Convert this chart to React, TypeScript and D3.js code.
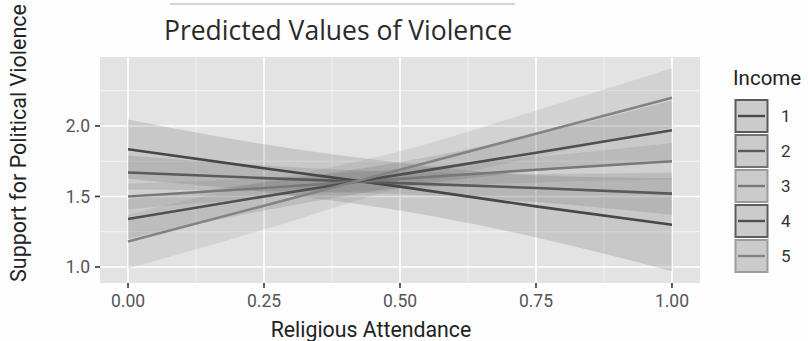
import React from 'react';
import * as d3 from 'd3';

const attendance = [0, 0.25, 0.5, 0.75, 1];
const incomeLevels = ['1', '2', '3', '4', '5'];

// predicted support, one array per income level
const predicted1 = [1.835, 1.7, 1.57, 1.43, 1.3];
const predicted2 = [1.67, 1.63, 1.595, 1.56, 1.52];
const predicted3 = [1.5, 1.56, 1.625, 1.69, 1.75];
const predicted4 = [1.34, 1.5, 1.655, 1.81, 1.97];
const predicted5 = [1.18, 1.435, 1.69, 1.945, 2.2];

// confidence band edges
const lower1 = [1.625, 1.53, 1.4, 1.21, 0.97];
const upper1 = [2.045, 1.87, 1.74, 1.65, 1.63];
const lower2 = [1.55, 1.54, 1.515, 1.46, 1.37];
const upper2 = [1.79, 1.72, 1.675, 1.66, 1.67];
const lower3 = [1.41, 1.49, 1.555, 1.6, 1.62];
const upper3 = [1.59, 1.63, 1.695, 1.78, 1.88];
const lower4 = [1.2, 1.4, 1.565, 1.68, 1.76];
const upper4 = [1.48, 1.6, 1.745, 1.94, 2.18];
const lower5 = [0.99, 1.265, 1.56, 1.78, 1.99];
const upper5 = [1.37, 1.605, 1.82, 2.11, 2.41];

const xTicks = [0, 0.25, 0.5, 0.75, 1];
const xMinor = [0.125, 0.375, 0.625, 0.875];
const yTicks = [1.0, 1.5, 2.0];
const yMinor = [1.25, 1.75, 2.25];

const predicted = [predicted1, predicted2, predicted3, predicted4, predicted5];
const lowers = [lower1, lower2, lower3, lower4, lower5];
const uppers = [upper1, upper2, upper3, upper4, upper5];

// greys (the reference is a greyscale print)
const lineColors = ['#474747', '#5a5a5a', '#787878', '#4f4f4f', '#838383'];
const keyBorders = ['#5a5a5a', '#727272', '#9a9a9a', '#5e5e5e', '#9c9c9c'];

const W = 808;
const H = 341;
const panel = { left: 100, right: 700, top: 57, bottom: 283 };

const App = () => {
  const x = d3.scaleLinear().domain([-0.0515, 1.0515]).range([panel.left, panel.right]);
  const y = d3.scaleLinear().domain([0.8865, 2.489]).range([panel.bottom, panel.top]);

  const line = d3.line<number>()
    .x((_, i) => x(attendance[i]))
    .y(d => y(d));

  const band = (lo: number[], hi: number[]) =>
    d3.area<number>()
      .x(d => x(d))
      .y0((_, i) => y(lo[i]))
      .y1((_, i) => y(hi[i]))
      .curve(d3.curveMonotoneX)(attendance);

  const axisFont = 'Roboto, "Liberation Sans", Arial, sans-serif';

  return (
    <div style={{ position: 'fixed', left: 0, top: 0 }}>
      <svg width={W} height={H} style={{ display: 'block', background: '#fdfdfd' }}>
        {/* faint scan line at the top */}
        <line x1={170} x2={515} y1={4} y2={4} stroke="#c4c4c4" strokeWidth={1.5} />

        <text x={338} y={40} textAnchor="middle" fontFamily='"Open Sans", "Noto Sans", sans-serif'
          fontSize={26.5} fill="#2a2a2a">Predicted Values of Violence</text>

        {/* panel */}
        <rect x={panel.left} y={panel.top} width={panel.right - panel.left}
          height={panel.bottom - panel.top} fill="#e3e3e3" />
        {yMinor.map(v => (
          <line key={'ym' + v} x1={panel.left} x2={panel.right} y1={y(v)} y2={y(v)}
            stroke="#f6f6f6" strokeWidth={0.8} />
        ))}
        {xMinor.map(v => (
          <line key={'xm' + v} x1={x(v)} x2={x(v)} y1={panel.top} y2={panel.bottom}
            stroke="#f6f6f6" strokeWidth={0.8} />
        ))}
        {yTicks.map(v => (
          <line key={'yg' + v} x1={panel.left} x2={panel.right} y1={y(v)} y2={y(v)}
            stroke="#ffffff" strokeWidth={1.6} />
        ))}
        {xTicks.map(v => (
          <line key={'xg' + v} x1={x(v)} x2={x(v)} y1={panel.top} y2={panel.bottom}
            stroke="#ffffff" strokeWidth={1.6} />
        ))}

        {/* confidence bands */}
        {incomeLevels.map((lvl, i) => (
          <path key={'b' + lvl} d={band(lowers[i], uppers[i]) || ''}
            fill={lineColors[i]} fillOpacity={0.17} />
        ))}
        {/* predicted lines */}
        {incomeLevels.map((lvl, i) => (
          <path key={'l' + lvl} d={line(predicted[i]) || ''} fill="none"
            stroke={lineColors[i]} strokeWidth={2.6} />
        ))}

        {/* axes */}
        {yTicks.map(v => (
          <g key={'yt' + v}>
            <line x1={panel.left - 5} x2={panel.left} y1={y(v)} y2={y(v)} stroke="#333" strokeWidth={1.6} />
            <text x={panel.left - 10} y={y(v)} dy="0.35em" textAnchor="end"
              fontFamily={axisFont} fontSize={17.5} fill="#555">{d3.format('.1f')(v)}</text>
          </g>
        ))}
        {xTicks.map(v => (
          <g key={'xt' + v}>
            <line x1={x(v)} x2={x(v)} y1={panel.bottom} y2={panel.bottom + 5} stroke="#333" strokeWidth={1.6} />
            <text x={x(v)} y={307} textAnchor="middle"
              fontFamily={axisFont} fontSize={17.5} fill="#555">{d3.format('.2f')(v)}</text>
          </g>
        ))}

        <text x={371} y={337} textAnchor="middle" fontFamily={axisFont} fontSize={21.3} fill="#222">
          Religious Attendance
        </text>
        <text transform="translate(26,143) rotate(-90)" textAnchor="middle"
          fontFamily={axisFont} fontSize={21.5} fill="#222">Support for Political Violence</text>

        {/* legend */}
        <text x={733} y={85} fontFamily={axisFont} fontSize={20.5} fill="#222">Income</text>
        {incomeLevels.map((lvl, i) => {
          const top = 100 + i * 35;
          return (
            <g key={'k' + lvl}>
              <rect x={735.5} y={top} width={32} height={32} fill="#cbcbcb"
                stroke={keyBorders[i]} strokeWidth={2} />
              <line x1={738} x2={765} y1={top + 16} y2={top + 16} stroke={lineColors[i]} strokeWidth={2.4} />
              <text x={781} y={top + 16} dy="0.35em" fontFamily={axisFont} fontSize={17} fill="#333">{lvl}</text>
            </g>
          );
        })}
      </svg>
    </div>
  );
};

export default App;
